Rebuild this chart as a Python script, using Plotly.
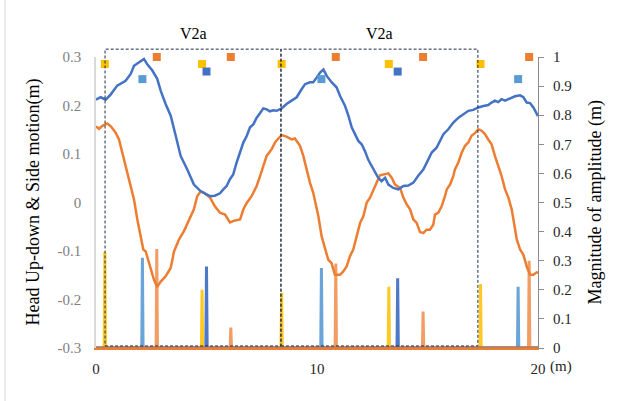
import plotly.graph_objects as go

# Head up-down motion (left axis, m) along the walking distance (m)
updown_x = [0, 0.21, 0.44, 0.67, 0.96, 1.34, 1.57, 1.72, 1.95, 2.17, 2.32, 2.55, 2.77, 2.93,
            3.15, 3.38, 3.61, 3.83, 4.13, 4.43, 4.74, 5.16, 5.38, 5.61, 5.76, 5.91, 6.06, 6.21,
            6.36, 6.52, 6.67, 6.82, 6.97, 7.12, 7.27, 7.42, 7.57, 7.72, 7.87, 8.02, 8.17, 8.40,
            8.62, 8.85, 9.08, 9.31, 9.46, 9.68, 9.83, 9.99, 10.14, 10.29, 10.44, 10.66, 10.89,
            11.04, 11.27, 11.42, 11.57, 11.72, 11.87, 12.02, 12.17, 12.32, 12.47, 12.62, 12.77,
            12.92, 13.08, 13.23, 13.45, 13.68, 13.91, 14.13, 14.36, 14.58, 14.81, 15.04, 15.19,
            15.41, 15.57, 15.72, 15.94, 16.17, 16.40, 16.62, 16.85, 17.07, 17.30, 17.53, 17.75,
            17.90, 18.05, 18.20, 18.35, 18.51, 18.73, 18.96, 19.19, 19.34, 19.49, 19.64, 19.79,
            19.94, 20.0]
updown_y = [0.212, 0.217, 0.212, 0.223, 0.241, 0.251, 0.265, 0.282, 0.289, 0.296, 0.285, 0.272,
            0.255, 0.230, 0.203, 0.179, 0.137, 0.096, 0.068, 0.037, 0.023, 0.013, 0.014, 0.019,
            0.027, 0.034, 0.048, 0.058, 0.082, 0.106, 0.124, 0.137, 0.155, 0.161, 0.175, 0.184,
            0.194, 0.192, 0.188, 0.190, 0.189, 0.194, 0.203, 0.210, 0.217, 0.234, 0.244, 0.248,
            0.248, 0.258, 0.268, 0.274, 0.261, 0.248, 0.237, 0.220, 0.199, 0.179, 0.155, 0.141,
            0.127, 0.120, 0.106, 0.088, 0.075, 0.061, 0.051, 0.044, 0.051, 0.037, 0.030, 0.027,
            0.034, 0.035, 0.041, 0.055, 0.068, 0.089, 0.103, 0.113, 0.127, 0.141, 0.151, 0.165,
            0.175, 0.182, 0.189, 0.191, 0.196, 0.199, 0.201, 0.206, 0.210, 0.207, 0.213, 0.210,
            0.215, 0.219, 0.221, 0.217, 0.206, 0.205, 0.196, 0.182, 0.178]

# Head side motion (left axis, m)
side_x = [0, 0.14, 0.29, 0.51, 0.67, 0.89, 1.04, 1.19, 1.42, 1.57, 1.72, 1.87, 2.02, 2.14, 2.25,
          2.40, 2.62, 2.77, 2.93, 3.15, 3.38, 3.53, 3.76, 3.98, 4.21, 4.43, 4.58, 4.74, 4.89,
          5.16, 5.38, 5.61, 5.84, 6.06, 6.29, 6.52, 6.67, 6.82, 7.04, 7.27, 7.42, 7.57, 7.72,
          7.95, 8.10, 8.25, 8.40, 8.62, 8.85, 9.00, 9.23, 9.38, 9.53, 9.68, 9.83, 9.99, 10.06,
          10.21, 10.36, 10.51, 10.66, 10.81, 11.04, 11.19, 11.34, 11.49, 11.64, 11.79, 11.95,
          12.10, 12.25, 12.40, 12.55, 12.70, 12.85, 13.00, 13.23, 13.38, 13.53, 13.76, 13.91,
          14.06, 14.21, 14.36, 14.51, 14.66, 14.81, 14.96, 15.11, 15.26, 15.34, 15.49, 15.64,
          15.79, 15.87, 16.02, 16.17, 16.24, 16.39, 16.55, 16.70, 16.85, 17.00, 17.15, 17.30,
          17.45, 17.60, 17.75, 17.90, 18.05, 18.20, 18.35, 18.51, 18.66, 18.81, 18.88, 19.04,
          19.19, 19.34, 19.49, 19.64, 19.79, 19.94, 20.0]
side_y = [0.157, 0.152, 0.158, 0.163, 0.157, 0.144, 0.130, 0.103, 0.062, 0.034, 0.006, -0.035,
          -0.070, -0.097, -0.101, -0.125, -0.159, -0.174, -0.163, -0.152, -0.135, -0.101, -0.076,
          -0.059, -0.035, -0.014, 0.013, 0.023, 0.020, 0.010, -0.008, -0.021, -0.025, -0.041,
          -0.037, -0.035, -0.014, -0.001, 0.013, 0.034, 0.054, 0.075, 0.096, 0.110, 0.124, 0.132,
          0.139, 0.136, 0.130, 0.132, 0.117, 0.096, 0.068, 0.041, 0.020, -0.014, -0.028, -0.070,
          -0.097, -0.118, -0.125, -0.149, -0.149, -0.142, -0.132, -0.111, -0.097, -0.070, -0.042,
          -0.028, 0.000, 0.010, 0.027, 0.041, 0.056, 0.058, 0.060, 0.051, 0.037, 0.030, 0.010,
          -0.004, -0.014, -0.035, -0.042, -0.061, -0.063, -0.056, -0.056, -0.046, -0.025, -0.021,
          -0.008, 0.013, 0.027, 0.037, 0.055, 0.068, 0.082, 0.103, 0.117, 0.124, 0.138, 0.143,
          0.151, 0.148, 0.141, 0.130, 0.120, 0.096, 0.075, 0.055, 0.027, 0.010, -0.014, -0.035,
          -0.076, -0.097, -0.108, -0.132, -0.149, -0.149, -0.144, -0.145]

# Amplitude events (right axis): position (m) and magnitude (m)
yellow_x = [0.4, 4.8, 8.4, 13.25, 17.4]
yellow_amp = [0.33, 0.20, 0.19, 0.21, 0.22]
lightblue_x = [2.1, 10.2, 19.1]
lightblue_amp = [0.31, 0.275, 0.21]
darkblue_x = [5.0, 13.65]
darkblue_amp = [0.28, 0.24]
orange_x = [2.75, 6.1, 10.85, 14.8, 19.6]
orange_amp = [0.34, 0.07, 0.29, 0.125, 0.30]

# Marker row level of each event type (right axis)
orange_row = 1.0
yellow_row = 0.976
darkblue_row = 0.95
lightblue_row = 0.924

# V2a segments (m)
segment_edges = [0.41, 8.37, 17.28]
segment_label = "V2a"

x_range = [0, 20]
x_ticks = [0, 10, 20]
left_ticks = [-0.3, -0.2, -0.1, 0, 0.1, 0.2, 0.3]
left_ticktext = ["-0.3", "-0.2", "-0.1", "0", "0.1", "0.2", "0.3"]

BLUE = "#4472C4"
ORANGE = "#ED7D31"
YELLOW = "#FFC000"
LBLUE = "#5B9BD5"
FONT = "Liberation Serif, Times New Roman, serif"


def spike_series(xs, amps):
    """Amplitude line: zero everywhere except a narrow peak at each event."""
    px, py = [x_range[0]], [0.0]
    for x, a in zip(xs, amps):
        px += [x - 0.03, x, x + 0.03]
        py += [0.0, a, 0.0]
    px.append(x_range[1])
    py.append(0.0)
    return px, py


fig = go.Figure()

for xs, amps, col, op in [(yellow_x, yellow_amp, YELLOW, 0.85),
                          (lightblue_x, lightblue_amp, LBLUE, 0.9),
                          (darkblue_x, darkblue_amp, BLUE, 0.95),
                          (orange_x, orange_amp, ORANGE, 0.75)]:
    sx, sy = spike_series(xs, amps)
    fig.add_trace(go.Scatter(x=sx, y=sy, mode="lines", yaxis="y2", opacity=op,
                             line=dict(color=col, width=3), hoverinfo="skip"))

fig.add_trace(go.Scatter(x=side_x, y=side_y, mode="lines",
                         line=dict(color=ORANGE, width=2.5)))
fig.add_trace(go.Scatter(x=updown_x, y=updown_y, mode="lines",
                         line=dict(color=BLUE, width=2.5)))

for xs, row, col in [(yellow_x, yellow_row, YELLOW),
                     (orange_x, orange_row, ORANGE),
                     (lightblue_x, lightblue_row, LBLUE),
                     (darkblue_x, darkblue_row, BLUE)]:
    fig.add_trace(go.Scatter(x=xs, y=[row] * len(xs), mode="markers", yaxis="y2",
                             cliponaxis=False,
                             marker=dict(symbol="square", size=8, color=col,
                                         line=dict(width=0))))

# Dashed boxes marking the two V2a segments
span = x_range[1] - x_range[0]
box_top, box_bottom = 1.027, 0.007
for a, b in zip(segment_edges[:-1], segment_edges[1:]):
    fig.add_shape(type="rect", xref="paper", yref="paper",
                  x0=(a - x_range[0]) / span, x1=(b - x_range[0]) / span,
                  y0=box_bottom, y1=box_top,
                  line=dict(color="#1F2B47", width=1, dash="3px,2px"))
    fig.add_annotation(xref="paper", yref="paper", x=((a + b) / 2 - x_range[0]) / span,
                       y=1.082, xanchor="center", yanchor="middle",
                       text=segment_label, showarrow=False,
                       font=dict(family=FONT, size=16, color="#000000"))

# Outer chart border (left edge)
fig.add_shape(type="line", xref="paper", yref="paper", x0=-0.2059, x1=-0.2059,
              y0=-0.19, y1=1.2, line=dict(color="#D9D9D9", width=1))

fig.add_annotation(xref="paper", yref="paper", x=-0.1425, y=0.5, textangle=-90,
                   xanchor="center", yanchor="middle",
                   text="Head Up-down & Side motion(m)", showarrow=False,
                   font=dict(family=FONT, size=18, color="#000000"))
fig.add_annotation(xref="paper", yref="paper", x=1.129, y=0.5, textangle=-90,
                   xanchor="center", yanchor="middle",
                   text="Magnitude of amplitude (m)", showarrow=False,
                   font=dict(family=FONT, size=18, color="#000000"))
fig.add_annotation(xref="paper", yref="paper", x=1.052, y=-0.062,
                   xanchor="center", yanchor="middle", text="(m)",
                   showarrow=False, font=dict(family=FONT, size=15, color="#262626"))

fig.update_layout(
    width=622, height=401,
    margin=dict(l=96, r=84, t=57, b=53),
    paper_bgcolor="white", plot_bgcolor="white",
    showlegend=False,
    font=dict(family=FONT),
    xaxis=dict(range=x_range, tickvals=x_ticks,
               showgrid=False, zeroline=False,
               showline=True, linecolor=ORANGE, linewidth=1.5, ticks="",
               tickfont=dict(family=FONT, size=15, color="#262626"),
               ticklabelstandoff=6),
    yaxis=dict(range=[-0.3, 0.3], tickvals=left_ticks, ticktext=left_ticktext,
               showgrid=False, zeroline=False, showline=True, linecolor="#D9D9D9",
               linewidth=1.5, ticks="",
               tickfont=dict(family=FONT, size=15, color="#7F7F7F"),
               ticklabelstandoff=10),
    yaxis2=dict(range=[0, 1], overlaying="y", side="right", tick0=0, dtick=0.1,
                showgrid=False, zeroline=False, showline=True, linecolor="#8C8C8C",
                linewidth=1, ticks="outside", ticklen=5, tickcolor="#8C8C8C",
                tickfont=dict(family=FONT, size=15, color="#262626"),
                ticklabelstandoff=6),
)

fig.write_html("out.html")
